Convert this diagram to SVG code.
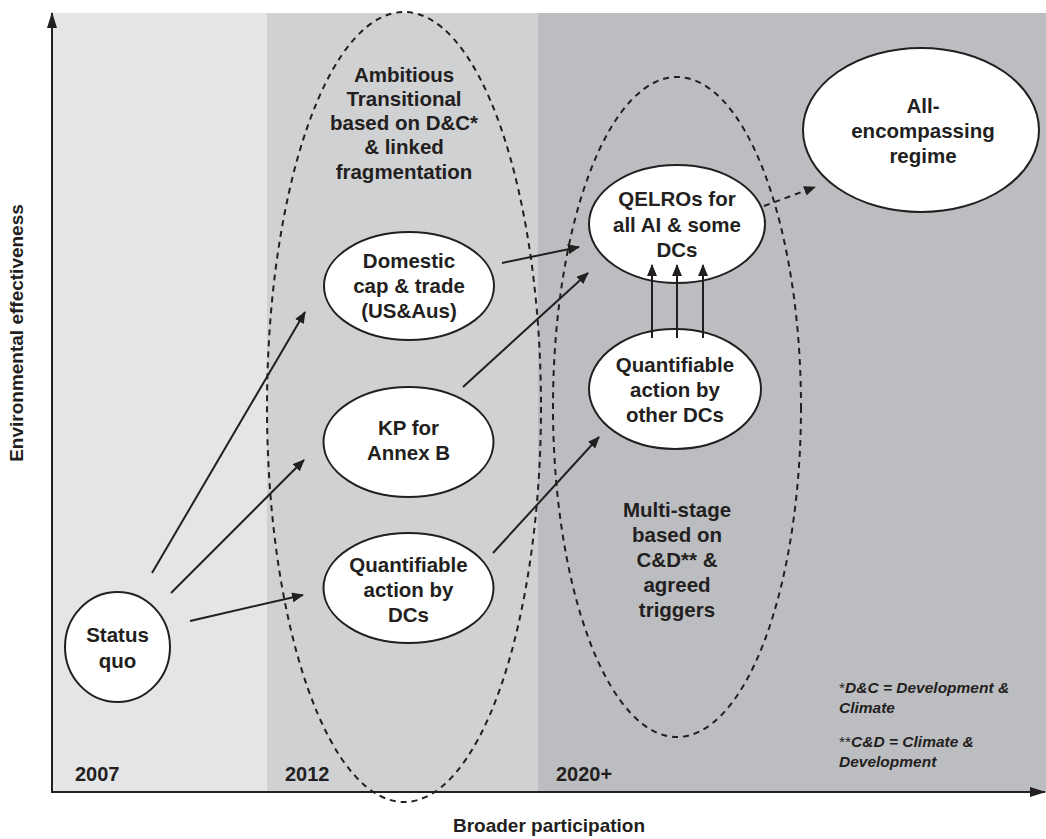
<svg xmlns="http://www.w3.org/2000/svg" width="1046" height="839" viewBox="0 0 1046 839">
<defs>
<style>
.node{fill:#fff;stroke:#231f20;stroke-width:2}
.dash{fill:none;stroke:#231f20;stroke-width:2;stroke-dasharray:6 5}
.t{font-family:"Liberation Sans",Arial,sans-serif;font-weight:bold;font-size:20.5px;fill:#231f20;text-anchor:middle}
.yr{font-family:"Liberation Sans",Arial,sans-serif;font-weight:bold;font-size:20px;fill:#231f20}
.fn{font-family:"Liberation Sans",Arial,sans-serif;font-weight:bold;font-style:italic;font-size:15.5px;fill:#231f20}
.ax{font-family:"Liberation Sans",Arial,sans-serif;font-weight:bold;font-size:19px;fill:#231f20;text-anchor:middle}
.c{fill:none;stroke:#231f20;stroke-width:2;marker-end:url(#ah)}
.cd{fill:none;stroke:#231f20;stroke-width:2;stroke-dasharray:6 5;marker-end:url(#ah)}
</style>
<marker id="ah" viewBox="0 0 12 10" refX="11" refY="5" markerWidth="12" markerHeight="10" markerUnits="userSpaceOnUse" orient="auto">
<path d="M0,0 L12,5 L0,10 z" fill="#231f20"/>
</marker>
<marker id="axh" viewBox="0 0 16 10" refX="15" refY="5" markerWidth="16" markerHeight="10" markerUnits="userSpaceOnUse" orient="auto">
<path d="M0,0 L16,5 L0,10 z" fill="#231f20"/>
</marker>
</defs>
<g id="background">
<rect x="52" y="13" width="215" height="779" fill="#e4e5e7"/>
<rect x="267" y="13" width="271" height="779" fill="#d0d1d3"/>
<rect x="538" y="13" width="508" height="779" fill="#bcbdc0"/>
</g>
<g id="axes">
<line x1="52" y1="792" x2="52" y2="13" stroke="#231f20" stroke-width="2" marker-end="url(#axh)"/>
<line x1="51" y1="792" x2="1045" y2="792" stroke="#231f20" stroke-width="2" marker-end="url(#axh)"/>
<text class="ax" transform="translate(23,333) rotate(-90)">Environmental effectiveness</text>
<text class="ax" x="549" y="832">Broader participation</text>
</g>
<g id="years">
<text class="yr" x="75" y="781">2007</text>
<text class="yr" x="285" y="781">2012</text>
<text class="yr" x="556" y="781">2020+</text>
</g>
<g id="group-2012">
<ellipse class="dash" cx="404" cy="407" rx="137" ry="395"/>
<text class="t" x="404" y="82">Ambitious</text>
<text class="t" x="404" y="106">Transitional</text>
<text class="t" x="404" y="130">based on D&amp;C*</text>
<text class="t" x="404" y="154">&amp; linked</text>
<text class="t" x="404" y="179">fragmentation</text>
</g>
<g id="group-2020">
<ellipse class="dash" cx="677" cy="407" rx="124" ry="330"/>
<text class="t" x="677" y="517">Multi-stage</text>
<text class="t" x="677" y="542">based on</text>
<text class="t" x="677" y="567">C&amp;D** &amp;</text>
<text class="t" x="677" y="592">agreed</text>
<text class="t" x="677" y="617">triggers</text>
</g>
<g id="status-quo">
<ellipse class="node" cx="117.5" cy="647" rx="52.5" ry="55"/>
<text class="t" x="117.5" y="642">Status</text>
<text class="t" x="117.5" y="668">quo</text>
</g>
<g id="domestic">
<ellipse class="node" cx="409" cy="286" rx="85" ry="54"/>
<text class="t" x="409" y="268">Domestic</text>
<text class="t" x="409" y="293">cap &amp; trade</text>
<text class="t" x="409" y="318">(US&amp;Aus)</text>
</g>
<g id="kp">
<ellipse class="node" cx="408.5" cy="442" rx="85" ry="55"/>
<text class="t" x="408.5" y="435">KP for</text>
<text class="t" x="408.5" y="460">Annex B</text>
</g>
<g id="quant-dcs">
<ellipse class="node" cx="408.5" cy="588" rx="85" ry="55"/>
<text class="t" x="408.5" y="572">Quantifiable</text>
<text class="t" x="408.5" y="597">action by</text>
<text class="t" x="408.5" y="622">DCs</text>
</g>
<g id="qelros">
<ellipse class="node" cx="677" cy="224" rx="88" ry="59"/>
<text class="t" x="677" y="206">QELROs for</text>
<text class="t" x="677" y="232">all AI &amp; some</text>
<text class="t" x="677" y="257">DCs</text>
</g>
<g id="quant-other">
<ellipse class="node" cx="675" cy="389" rx="86" ry="60"/>
<text class="t" x="675" y="372">Quantifiable</text>
<text class="t" x="675" y="397">action by</text>
<text class="t" x="675" y="422">other DCs</text>
</g>
<g id="all-encompassing">
<ellipse class="node" cx="921" cy="130" rx="118" ry="82"/>
<text class="t" x="923" y="113">All-</text>
<text class="t" x="923" y="138">encompassing</text>
<text class="t" x="923" y="163">regime</text>
</g>
<g id="connectors">
<line class="c" x1="152" y1="573" x2="305" y2="312"/>
<line class="c" x1="171" y1="593" x2="304" y2="460"/>
<line class="c" x1="190" y1="621" x2="303" y2="595"/>
<line class="c" x1="502" y1="263" x2="579" y2="247"/>
<line class="c" x1="463" y1="387" x2="588" y2="273"/>
<line class="c" x1="493" y1="553" x2="599" y2="437"/>
<line class="c" x1="652" y1="338" x2="652" y2="265"/>
<line class="c" x1="677" y1="338" x2="677" y2="265"/>
<line class="c" x1="703" y1="338" x2="703" y2="265"/>
<line class="cd" x1="764" y1="206" x2="815" y2="187"/>
</g>
<g id="footnotes">
<text class="fn" x="839" y="693"><tspan font-style="normal" font-weight="normal">*</tspan>D&amp;C = Development &amp;</text>
<text class="fn" x="839" y="713">Climate</text>
<text class="fn" x="839" y="747"><tspan font-style="normal" font-weight="normal">**</tspan>C&amp;D = Climate &amp;</text>
<text class="fn" x="839" y="767">Development</text>
</g>
</svg>
